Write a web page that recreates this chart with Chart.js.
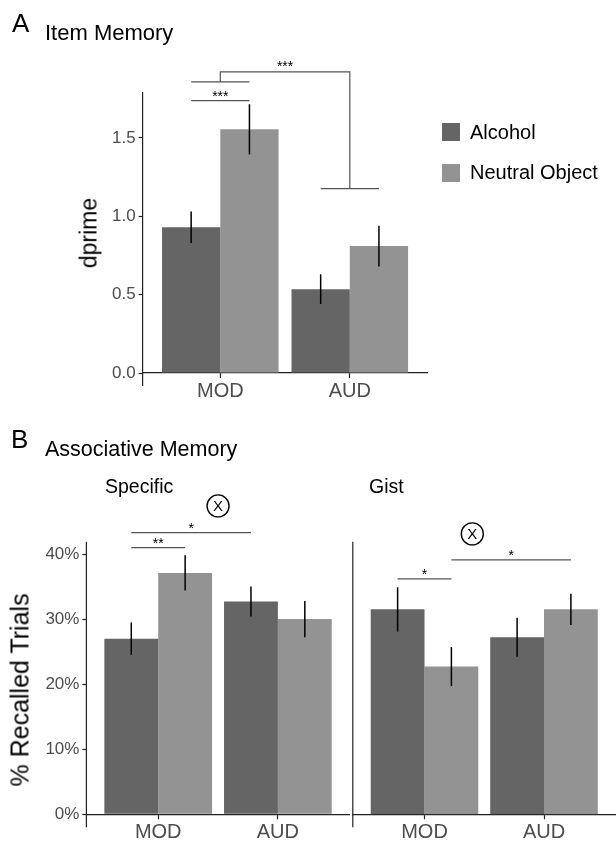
<!DOCTYPE html>
<html>
<head>
<meta charset="utf-8">
<script src="https://cdn.jsdelivr.net/npm/chart.js@4.4.1/dist/chart.umd.min.js"></script>
<style>
  body { margin: 0; background: #fff; }
  #page { position: relative; width: 616px; height: 843px; overflow: hidden; font-family: "Liberation Sans", Arial, sans-serif; }
  canvas { position: absolute; }
  .txt { position: absolute; line-height: 1; white-space: nowrap; color: #000; }
  .key { position: absolute; width: 18px; height: 18px; }
</style>
</head>
<body>
<div id="page">
  <canvas id="chartA" width="616" height="420" style="left:0;top:0"></canvas>
  <canvas id="chartSpecific" width="351" height="423" style="left:0;top:420px"></canvas>
  <canvas id="chartGist" width="265" height="423" style="left:351px;top:420px"></canvas>
</div>
<script>
const categories = ["MOD", "AUD"];
const seriesNames = ["Alcohol", "Neutral Object"];

// A: item memory, dprime (mean and error half-width)
const itemAlcohol = [0.93, 0.535];
const itemAlcoholErr = [0.10, 0.095];
const itemNeutral = [1.555, 0.81];
const itemNeutralErr = [0.16, 0.13];
const itemTicks = [0, 0.5, 1.0, 1.5];

// B: associative memory, % recalled trials
const specificAlcohol = [27.0, 32.7];
const specificAlcoholErr = [2.5, 2.3];
const specificNeutral = [37.1, 30.0];
const specificNeutralErr = [2.7, 2.8];
const gistAlcohol = [31.5, 27.2];
const gistAlcoholErr = [3.4, 3.0];
const gistNeutral = [22.7, 31.5];
const gistNeutralErr = [3.0, 2.4];
const pctTicks = [0, 10, 20, 30, 40];

const darkGrey = "#656565";
const lightGrey = "#939393";
const axisColor = "#222";
const tickColor = "#4d4d4d";
const fontFam = "'Liberation Sans', Arial, sans-serif";

function series(values, errs, color, label) {
  return {
    label: label,
    data: values.map((v, i) => ({ x: i + 1, y: v })),
    errors: errs,
    backgroundColor: color,
    borderWidth: 0,
    categoryPercentage: 0.9,
    barPercentage: 1.0
  };
}

// y axis line, running a little below zero like the original
const yAxisLine = {
  id: "yAxisLine",
  afterDraw(chart) {
    const { ctx, chartArea } = chart;
    ctx.save();
    ctx.strokeStyle = axisColor;
    ctx.lineWidth = 1.2;
    ctx.beginPath();
    ctx.moveTo(chartArea.left, chartArea.top);
    ctx.lineTo(chartArea.left, chartArea.bottom + 13);
    ctx.stroke();
    ctx.restore();
  }
};

const errorBars = {
  id: "errorBars",
  afterDatasetsDraw(chart) {
    const { ctx } = chart;
    const y = chart.scales.y;
    ctx.save();
    ctx.strokeStyle = "#000";
    ctx.lineWidth = 1.5;
    chart.data.datasets.forEach((ds, i) => {
      chart.getDatasetMeta(i).data.forEach((bar, j) => {
        const v = ds.data[j].y, e = ds.errors[j];
        ctx.beginPath();
        ctx.moveTo(bar.x, y.getPixelForValue(v - e));
        ctx.lineTo(bar.x, y.getPixelForValue(v + e));
        ctx.stroke();
      });
    });
    ctx.restore();
  }
};

// significance marks: lines between bars, linked brackets, circled X
function notes(list) {
  return {
    id: "notes",
    afterDraw(chart) {
      const { ctx } = chart;
      const xs = chart.scales.x, ys = chart.scales.y;
      const barX = (ds, cat) => chart.getDatasetMeta(ds).data[cat].x;
      const star = (txt, x, py) => {
        ctx.fillStyle = "#000";
        ctx.font = "14px " + fontFam;
        ctx.textAlign = "center";
        ctx.textBaseline = "alphabetic";
        ctx.fillText(txt, x, py);
      };
      ctx.save();
      ctx.strokeStyle = "#555";
      ctx.lineWidth = 1.2;
      list.forEach(n => {
        if (n.type === "line") {
          const x1 = barX(n.from[0], n.from[1]), x2 = barX(n.to[0], n.to[1]);
          const py = ys.getPixelForValue(n.y);
          ctx.beginPath(); ctx.moveTo(x1, py); ctx.lineTo(x2, py); ctx.stroke();
          star(n.label, (x1 + x2) / 2, py);
        } else if (n.type === "link") {
          const l1 = barX(0, n.left), l2 = barX(1, n.left);
          const r1 = barX(0, n.right), r2 = barX(1, n.right);
          const lm = (l1 + l2) / 2, rm = (r1 + r2) / 2;
          const ly = ys.getPixelForValue(n.leftY), ry = ys.getPixelForValue(n.rightY), ty = ys.getPixelForValue(n.top);
          ctx.beginPath();
          ctx.moveTo(l1, ly); ctx.lineTo(l2, ly);
          ctx.moveTo(lm, ly); ctx.lineTo(lm, ty); ctx.lineTo(rm, ty); ctx.lineTo(rm, ry);
          ctx.moveTo(r1, ry); ctx.lineTo(r2, ry);
          ctx.stroke();
          star(n.label, (lm + rm) / 2, ty - 1);
        } else if (n.type === "circle") {
          const cx = xs.getPixelForValue(n.x), cy = ys.getPixelForValue(n.y);
          ctx.strokeStyle = "#000";
          ctx.lineWidth = 1.4;
          ctx.beginPath(); ctx.arc(cx, cy, 11, 0, Math.PI * 2); ctx.stroke();
          ctx.fillStyle = "#000";
          ctx.font = "15px " + fontFam;
          ctx.textAlign = "center";
          ctx.textBaseline = "middle";
          ctx.fillText("X", cx, cy + 1);
          ctx.strokeStyle = "#555";
          ctx.lineWidth = 1.2;
        }
      });
      ctx.restore();
    }
  };
}

function barChart(id, datasets, o) {
  return new Chart(document.getElementById(id), {
    type: "bar",
    data: { datasets: datasets },
    options: {
      responsive: false,
      animation: false,
      layout: { padding: { top: o.top, right: o.right, left: 0, bottom: 0 } },
      plugins: { legend: { display: false }, tooltip: { enabled: false } },
      scales: {
        x: {
          type: "linear",
          min: 0.4,
          max: 2.6,
          offset: false,
          afterBuildTicks: s => { s.ticks = categories.map((c, i) => ({ value: i + 1 })); },
          afterFit: s => { s.height = o.xHeight; },
          grid: { display: true, offset: false, drawOnChartArea: false, drawTicks: true, tickLength: 5, tickColor: axisColor, tickWidth: 1.2 },
          border: { display: true, color: axisColor, width: 1.2 },
          ticks: {
            callback: v => categories[v - 1],
            font: { family: fontFam, size: 20 },
            color: tickColor,
            padding: 1,
            maxRotation: 0
          }
        },
        y: {
          min: 0,
          max: o.yMax,
          afterBuildTicks: s => { s.ticks = o.ticks.map(v => ({ value: v })); },
          afterFit: s => { s.width = o.yWidth; },
          grid: { display: o.showY, drawOnChartArea: false, drawTicks: true, tickLength: 4, tickColor: axisColor, tickWidth: 1.2 },
          border: { display: false },
          ticks: {
            display: o.showY,
            callback: o.fmt,
            font: { family: fontFam, size: 17 },
            color: tickColor,
            padding: 3
          }
        }
      }
    },
    plugins: [yAxisLine, errorBars, notes(o.notes)]
  });
}

barChart("chartA", [
  series(itemAlcohol, itemAlcoholErr, darkGrey, seriesNames[0]),
  series(itemNeutral, itemNeutralErr, lightGrey, seriesNames[1])
], {
  top: 92, right: 188.5, xHeight: 47, yWidth: 142.6, yMax: 1.793,
  ticks: itemTicks, showY: true, fmt: v => v.toFixed(1),
  notes: [
    { type: "line", from: [0, 0], to: [1, 0], y: 1.738, label: "***" },
    { type: "link", left: 0, right: 1, leftY: 1.857, rightY: 1.176, top: 1.921, label: "***" }
  ]
});

barChart("chartSpecific", [
  series(specificAlcohol, specificAlcoholErr, darkGrey, seriesNames[0]),
  series(specificNeutral, specificNeutralErr, lightGrey, seriesNames[1])
], {
  top: 121.7, right: 1.3, xHeight: 28.7, yWidth: 86.4, yMax: 41.9,
  ticks: pctTicks, showY: true, fmt: v => v + "%",
  notes: [
    { type: "line", from: [0, 0], to: [1, 0], y: 41.0, label: "**" },
    { type: "line", from: [0, 0], to: [0, 1], y: 43.3, label: "*" },
    { type: "circle", x: 1.5, y: 47.4 }
  ]
});

barChart("chartGist", [
  series(gistAlcohol, gistAlcoholErr, darkGrey, seriesNames[0]),
  series(gistNeutral, gistNeutralErr, lightGrey, seriesNames[1])
], {
  top: 121.7, right: 0.3, xHeight: 28.7, yWidth: 1.8, yMax: 41.9,
  ticks: pctTicks, showY: false, fmt: v => v + "%",
  notes: [
    { type: "line", from: [0, 0], to: [1, 0], y: 36.2, label: "*" },
    { type: "line", from: [1, 0], to: [1, 1], y: 39.1, label: "*" },
    { type: "circle", x: 1.4, y: 43.1 }
  ]
});

// text: panel letters, titles, axis titles, legend
const page = document.getElementById("page");
function text(str, x, baseline, size, extra) {
  const d = document.createElement("div");
  d.className = "txt";
  d.textContent = str;
  d.style.fontSize = size + "px";
  d.style.left = x + "px";
  d.style.top = (baseline - 0.8465 * size) + "px";
  if (extra) Object.assign(d.style, extra);
  page.appendChild(d);
  return d;
}
function vtext(str, cx, cy, size) {
  const d = document.createElement("div");
  d.className = "txt";
  d.textContent = str;
  d.style.fontSize = size + "px";
  d.style.left = cx + "px";
  d.style.top = cy + "px";
  d.style.transform = "translate(-50%, -50%) rotate(-90deg)";
  page.appendChild(d);
}

text("A", 12, 32, 26);
text("Item Memory", 45, 40.5, 22);
text("B", 11, 448, 26);
text("Associative Memory", 45, 457.5, 21.5);
text("Specific", 105, 494, 19.5);
text("Gist", 369, 494, 19.5);
vtext("dprime", 89, 233, 23);
vtext("% Recalled Trials", 20, 690, 25);

[darkGrey, lightGrey].forEach((c, i) => {
  const k = document.createElement("div");
  k.className = "key";
  k.style.left = "442px";
  k.style.top = (122.5 + i * 41) + "px";
  k.style.background = c;
  page.appendChild(k);
  text(seriesNames[i], 470, 139.3 + i * 39.7, 20);
});
</script>
</body>
</html>
